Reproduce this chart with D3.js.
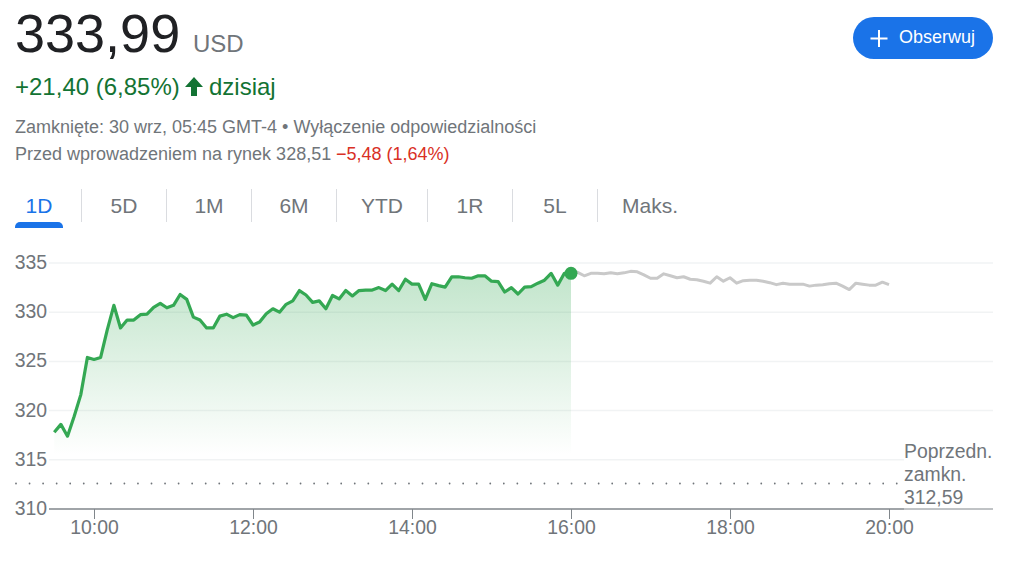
<!DOCTYPE html>
<html><head><meta charset="utf-8">
<script src="https://cdnjs.cloudflare.com/ajax/libs/d3/7.8.5/d3.min.js"></script>
<style>
html,body{margin:0;padding:0;background:#fff}
svg{display:block}
text{font-family:"Liberation Sans",Arial,sans-serif}
.axis path{display:none}
.axis text{fill:#70757a;font-size:19.4px;font-family:"Liberation Sans",Arial,sans-serif}
</style></head><body>
<svg id="c" width="1021" height="561"></svg>
<script>
const START_MIN = 570, STEP_MIN = 5;
const regularValues = [317.8,318.6,317.4,319.4,321.6,325.4,325.2,325.4,328.2,330.7,328.4,329.2,329.2,329.75,329.8,330.5,330.9,330.45,330.7,331.8,331.3,329.5,329.2,328.4,328.4,329.6,329.8,329.45,329.75,329.7,328.7,329,329.85,330.35,330,330.8,331.15,332.2,331.75,331,331.15,330.35,331.7,331.35,332.2,331.65,332.2,332.25,332.25,332.5,332.2,332.85,332.2,333.35,332.85,332.85,331.3,332.9,332.7,332.55,333.6,333.6,333.5,333.45,333.7,333.7,333.15,333.1,332.05,332.5,331.85,332.55,332.6,332.95,333.25,333.95,332.75,333.95,333.95];
const afterValues = [333.95,334.05,333.7,333.95,333.95,333.9,334,333.9,334,334.15,334.1,333.8,333.45,333.45,333.9,333.7,333.5,333.6,333.35,333.3,333.15,332.95,333.6,333.15,333.5,332.95,333.2,333.25,333.25,333.15,333,332.8,332.95,332.85,332.85,332.85,332.65,332.75,332.8,332.9,332.95,332.65,332.3,332.95,332.85,332.75,332.75,333.05,332.8];
const yTicks = [310,315,320,325,330,335];
const xTickMinutes = [600,720,840,960,1080,1200];
const xTickLabels = ["10:00","12:00","14:00","16:00","18:00","20:00"];
const previousClose = 312.59;
const tabLabels = ["1D","5D","1M","6M","YTD","1R","5L","Maks."];

const GREEN="#34a853", BLUE="#1a73e8", GREY="#70757a";
const svg=d3.select("#c");
const x=d3.scaleLinear().domain([600,1200]).range([94,889]);
const y=d3.scaleLinear().domain([310,335]).range([509,263]);
const reg=regularValues.map((v,i)=>({t:START_MIN+i*STEP_MIN,v}));
const aft=afterValues.map((v,i)=>({t:960+i*STEP_MIN,v}));

const defs=svg.append("defs");
const g=defs.append("linearGradient").attr("id","fade").attr("x1",0).attr("x2",0).attr("y1",0).attr("y2",1);
g.append("stop").attr("offset","0%").attr("stop-color",GREEN).attr("stop-opacity",0.3);
g.append("stop").attr("offset","100%").attr("stop-color",GREEN).attr("stop-opacity",0);

function T(px,py,s,size,fill,extra){const t=svg.append("text").attr("x",px).attr("y",py).attr("font-size",size).attr("fill",fill).text(s);if(extra)Object.entries(extra).forEach(([k,v])=>t.attr(k,v));return t;}
T(15,52,"333,99",54,"#202124");
T(193,52,"USD",24,GREY);
T(15,95,"+21,40 (6,85%)",24,"#137333");
svg.append("path").attr("d","M194 77 L203 87 L197 87 L197 96 L191 96 L191 87 L185 87 Z").attr("fill","#137333");
T(209,95,"dzisiaj",24,"#137333");
T(15,133,"Zamknięte: 30 wrz, 05:45 GMT-4 • Wyłączenie odpowiedzialności",18,GREY);
T(15,160,"Przed wprowadzeniem na rynek 328,51",18,GREY);
T(336,160,"−5,48 (1,64%)",18,"#d93025");

svg.append("rect").attr("x",853).attr("y",17).attr("width",140).attr("height",42).attr("rx",21).attr("fill",BLUE);
svg.append("path").attr("d","M879 30V47M870.5 38.5H887.5").attr("stroke","#fff").attr("stroke-width",2).attr("fill","none");
T(899,43,"Obserwuj",18,"#fff");

const tabCx=[39,124,209,294,382,470,555,650];
const tabSep=[81.5,166.5,251.5,336.5,427.5,512.5,597.5];
tabSep.forEach(p=>svg.append("line").attr("x1",p).attr("x2",p).attr("y1",189).attr("y2",222).attr("stroke","#dadce0"));
tabLabels.forEach((s,i)=>T(tabCx[i],213,s,21,i==0?BLUE:GREY,{"text-anchor":"middle"}));
svg.append("path").attr("d","M15 228V227a5 5 0 0 1 5-5H58a5 5 0 0 1 5 5V228Z").attr("fill",BLUE);

yTicks.slice(1).forEach(v=>svg.append("line").attr("x1",49).attr("x2",v==315?904:993).attr("y1",y(v)).attr("y2",y(v)).attr("stroke","#f1f3f4").attr("stroke-width",1.5));

const ya=svg.append("g").attr("class","axis").attr("transform","translate(47,0)").call(d3.axisLeft(y).tickValues(yTicks).tickSize(0).tickPadding(0).tickFormat(d3.format("d")));
ya.selectAll("text").attr("dy","0.28em");
svg.append("line").attr("x1",49).attr("x2",904).attr("y1",y(310)).attr("y2",y(310)).attr("stroke","#80868b").attr("stroke-width",1.5);
svg.append("line").attr("x1",904).attr("x2",993).attr("y1",y(310)).attr("y2",y(310)).attr("stroke","#80868b").attr("stroke-width",1);
const xa=svg.append("g").attr("class","axis").attr("transform",`translate(0,${y(310)})`).call(d3.axisBottom(x).tickValues(xTickMinutes).tickSize(10).tickPadding(1).tickFormat((d,i)=>xTickLabels[i]));
xa.selectAll("line").attr("stroke","#80868b").attr("stroke-width",1);

svg.append("line").attr("x1",16).attr("x2",897).attr("y1",y(previousClose)).attr("y2",y(previousClose))
 .attr("stroke","#70757a").attr("stroke-width",1.8).attr("stroke-linecap","round").attr("stroke-dasharray","0.01 13.54");
["Poprzedn.","zamkn.","312,59"].forEach((s,i)=>T(904,458+i*23,s,19.4,GREY));

const areaFull=d3.area().x(d=>x(d.t)).y0(y(315.5)).y1(d=>y(d.v));
svg.append("path").datum(reg).attr("d",areaFull).attr("fill","url(#fade)");
const line=d3.line().x(d=>x(d.t)).y(d=>y(d.v));
svg.append("path").datum(aft).attr("d",line).attr("fill","none").attr("stroke","#c9c9c9").attr("stroke-width",3).attr("stroke-linejoin","round");
svg.append("path").datum(reg).attr("d",line).attr("fill","none").attr("stroke",GREEN).attr("stroke-width",3.2).attr("stroke-linejoin","round");
const last=reg[reg.length-1];
svg.append("circle").attr("cx",x(last.t)).attr("cy",y(last.v)).attr("r",6.5).attr("fill",GREEN);
</script></body></html>
